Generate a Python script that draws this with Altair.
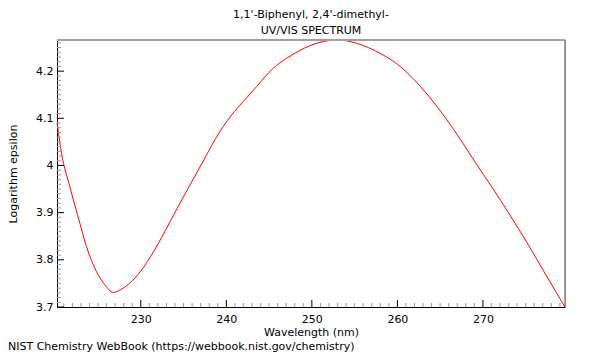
import altair as alt
import pandas as pd

# Spectrum
wavelength = [220.21, 220.73, 221.70, 222.67, 223.65, 224.82, 225.79, 226.76, 227.93,
              229.30, 231.25, 232.81, 233.89, 235.73, 237.29, 238.65, 240.61, 241.96,
              243.53, 245.47, 247.04, 248.60, 250.94, 253.08, 255.23, 257.95, 259.91,
              261.85, 263.80, 265.75, 267.70, 269.06, 271.02, 273.16, 275.11, 277.05,
              279.59]
log_eps = [4.090, 4.026, 3.955, 3.891, 3.828, 3.775, 3.747, 3.731, 3.740,
           3.761, 3.810, 3.860, 3.897, 3.958, 4.009, 4.054, 4.107, 4.135,
           4.167, 4.206, 4.227, 4.244, 4.261, 4.266, 4.259, 4.238, 4.216,
           4.184, 4.144, 4.098, 4.046, 4.008, 3.955, 3.895, 3.838, 3.778,
           3.700]

title_lines = ["1,1'-Biphenyl, 2,4'-dimethyl-", "UV/VIS SPECTRUM"]
x_title = "Wavelength (nm)"
y_title = "Logarithm epsilon"
footer = "NIST Chemistry WebBook (https://webbook.nist.gov/chemistry)"

x_major = [230, 240, 250, 260, 270]
x_minor = [v for v in range(221, 280) if v % 10 != 0]
y_major = [3.7, 3.8, 3.9, 4.0, 4.1, 4.2]
y_minor = [round(3.7 + 0.01 * i, 2) for i in range(1, 57) if i % 10 != 0]

W, H = 508, 267
FONT = "DejaVu Sans"

df = pd.DataFrame({"wl": wavelength, "le": log_eps})
xscale = alt.Scale(domain=[220.2, 279.6], nice=False, zero=False)
yscale = alt.Scale(domain=[3.7, 4.266], nice=False, zero=False)

xaxis = alt.Axis(title=x_title, values=x_major, ticks=False, grid=False,
                 domainColor="black", labelColor="black", titleColor="black",
                 labelFontSize=11, titleFontSize=11, titleFontWeight="normal",
                 labelPadding=6, titlePadding=2, format="d", labelFont=FONT,
                 titleFont=FONT)
yaxis = alt.Axis(title=y_title, values=y_major, ticks=False, grid=False,
                 domainColor="black", labelColor="black", titleColor="black",
                 labelFontSize=11, titleFontSize=11, titleFontWeight="normal",
                 labelPadding=4, titlePadding=17, labelFont=FONT, titleFont=FONT,
                 labelExpr="format(datum.value, '.1~f')")

line = alt.Chart(df).mark_line(color="#ff0000", strokeWidth=1, interpolate="monotone").encode(
    x=alt.X("wl:Q", scale=xscale, axis=xaxis),
    y=alt.Y("le:Q", scale=yscale, axis=yaxis),
)

xmin = alt.Chart(pd.DataFrame({"wl": x_minor})).mark_rule(color="#999999", strokeWidth=1).encode(
    x=alt.X("wl:Q", scale=xscale, axis=xaxis), y=alt.value(H), y2=alt.value(H - 4))
xmaj = alt.Chart(pd.DataFrame({"wl": x_major})).mark_rule(color="black", strokeWidth=1).encode(
    x=alt.X("wl:Q", scale=xscale, axis=xaxis), y=alt.value(H), y2=alt.value(H - 7))
ymin = alt.Chart(pd.DataFrame({"le": y_minor})).mark_rule(color="#999999", strokeWidth=1).encode(
    y=alt.Y("le:Q", scale=yscale, axis=yaxis), x=alt.value(0), x2=alt.value(4))
ymaj = alt.Chart(pd.DataFrame({"le": y_major})).mark_rule(color="black", strokeWidth=1).encode(
    y=alt.Y("le:Q", scale=yscale, axis=yaxis), x=alt.value(0), x2=alt.value(7))

one = pd.DataFrame({"a": [0]})
top_border = alt.Chart(one).mark_rule(color="#a0a0a0", strokeWidth=2).encode(
    x=alt.value(0), x2=alt.value(W), y=alt.value(0))
right_border = alt.Chart(one).mark_rule(color="#404040", strokeWidth=1).encode(
    x=alt.value(W), y=alt.value(0), y2=alt.value(H))

foot = alt.Chart(pd.DataFrame({"t": [footer]})).mark_text(
    align="left", baseline="middle", fontSize=11, font=FONT, color="black").encode(
    x=alt.value(-49), y=alt.value(H + 40), text="t:N")

chart = alt.layer(line, xmin, xmaj, ymin, ymaj, top_border, right_border, foot).properties(
    width=W, height=H,
    title=alt.Title(text=title_lines, fontSize=11, fontWeight="normal", font=FONT,
                    color="black", anchor="middle", lineHeight=16, offset=2),
    autosize=alt.AutoSizeParams(type="none"),
    padding={"left": 49, "top": 32, "right": 27, "bottom": 45},
).configure_view(stroke=None).configure(font=FONT)

chart.save("out.html", embed_options={"renderer": "svg", "actions": False})
